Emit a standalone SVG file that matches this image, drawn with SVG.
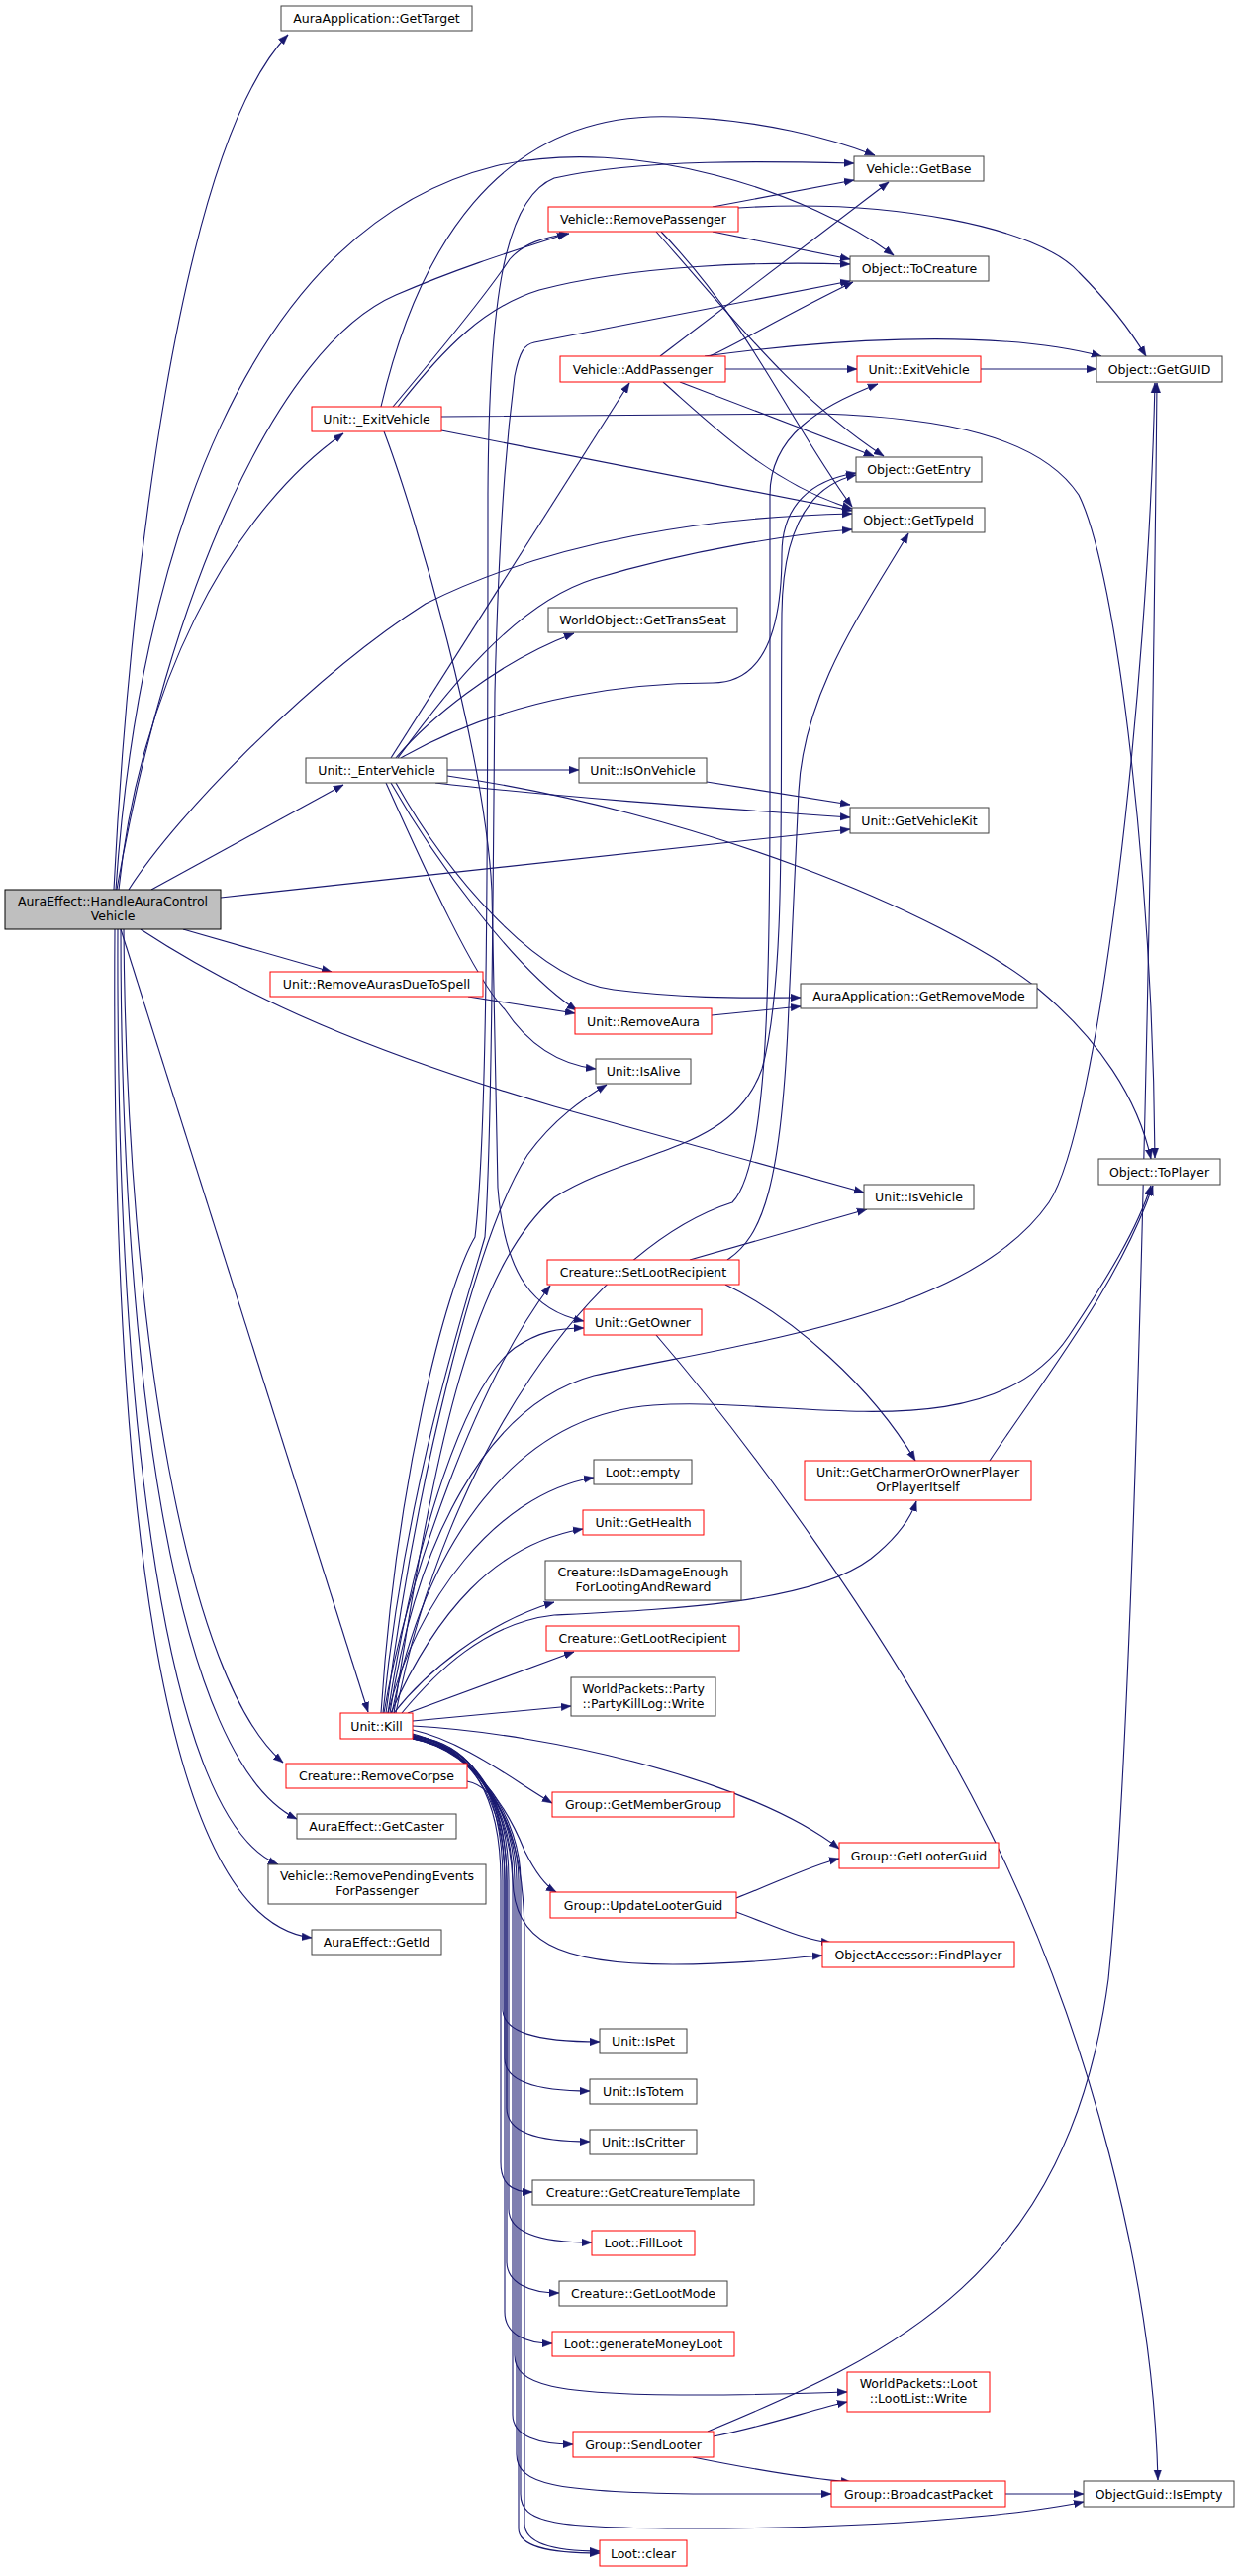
<svg xmlns="http://www.w3.org/2000/svg" width="1252" height="2603" viewBox="0 0 1252 2603">
<style>
.nd rect{fill:#ffffff;stroke:#404040;stroke-width:1}
.rd rect{fill:#ffffff;stroke:#ff0000;stroke-width:1}
.root rect{fill:#bfbfbf;stroke:#000000;stroke-width:1}
text{font-family:"DejaVu Sans",Verdana,sans-serif;font-size:12.5px;text-anchor:middle;fill:#000000}
#edges path{fill:none;stroke:#191970;stroke-width:1.1;marker-end:url(#arr)}
</style>
<defs>
<marker id="arr" markerUnits="userSpaceOnUse" markerWidth="11" markerHeight="9" refX="10" refY="4.5" orient="auto">
<path d="M0,0.8 L10,4.5 L0,8.2 z" fill="#191970" stroke="#191970" stroke-width="0.5"/>
</marker>
</defs>
<rect x="0" y="0" width="1252" height="2603" fill="#ffffff"/>
<g id="edges">
<path d="M115,899 C130,600 180,150 291,35"/>
<path d="M117,899 C140,560 250,230 500,168 C640,135 820,195 903,258"/>
<path d="M118,899 C170,600 280,350 400,298 C470,268 530,250 573,236"/>
<path d="M120,899 C140,700 230,520 347,438"/>
<path d="M130,899 C180,820 320,680 430,610 C560,545 720,522 861,519"/>
<path d="M153,899 L347,793"/>
<path d="M223,907 L859,838"/>
<path d="M185,939 L335,982"/>
<path d="M142,939 C250,1010 380,1065 560,1118 L873,1205"/>
<path d="M122,939 L372,1730"/>
<path d="M125,939 C128,1350 190,1700 286,1781"/>
<path d="M122,939 C122,1400 180,1780 300,1838"/>
<path d="M119,939 C117,1450 170,1840 281,1884"/>
<path d="M116,939 C112,1500 160,1940 315,1958"/>
<path d="M385,411 C420,260 500,110 683,118 C770,121 840,140 884,157"/>
<path d="M397,411 C440,360 490,300 515,262 C530,245 550,240 575,236"/>
<path d="M402,411 C450,350 490,310 545,293 C640,268 770,264 859,267"/>
<path d="M446,435 L861,516"/>
<path d="M446,421 L830,418 C950,422 1050,440 1090,500 C1130,580 1165,900 1167,1170"/>
<path d="M388,436 C420,520 490,760 497,900 L503,1200 C510,1290 540,1325 590,1335"/>
<path d="M720,209 L863,182"/>
<path d="M720,234 L859,262"/>
<path d="M746,210 C900,200 1050,230 1090,275 C1120,305 1140,330 1158,360"/>
<path d="M663,234 C740,320 800,400 893,461"/>
<path d="M668,234 C760,330 800,430 861,512"/>
<path d="M667,360 L898,184"/>
<path d="M717,360 C750,345 790,320 862,285"/>
<path d="M733,373 L866,373"/>
<path d="M712,360 C820,345 1000,330 1113,360"/>
<path d="M687,386 L883,461"/>
<path d="M670,386 C720,430 780,490 861,514"/>
<path d="M991,373 L1108,373"/>
<path d="M395,766 L636,387"/>
<path d="M400,766 C430,730 500,670 580,640"/>
<path d="M452,778 L585,778"/>
<path d="M405,766 C520,700 650,690 720,690 C770,690 790,640 790,560 C790,510 820,485 865,478"/>
<path d="M402,766 C450,700 520,610 600,585 C700,555 800,540 861,535"/>
<path d="M440,791 C560,805 700,815 859,826"/>
<path d="M452,784 C700,820 950,920 1050,1000 C1110,1050 1150,1110 1163,1171"/>
<path d="M395,791 C440,870 520,980 583,1021"/>
<path d="M390,791 C430,880 480,990 510,1020 C530,1050 560,1075 602,1080"/>
<path d="M400,791 C450,880 540,990 620,1000 C700,1010 760,1008 809,1008"/>
<path d="M714,790 L859,813"/>
<path d="M719,1026 L809,1017"/>
<path d="M473,1007 L581,1024"/>
<path d="M697,1273 L876,1222"/>
<path d="M735,1273 C770,1250 790,1200 797,1017 L807,800 C812,700 870,620 918,539"/>
<path d="M733,1298 C800,1330 880,1400 925,1476"/>
<path d="M1000,1476 C1050,1400 1130,1300 1165,1198"/>
<path d="M663,1349 C750,1450 900,1650 1000,1850 C1100,2050 1165,2300 1170,2506"/>
<path d="M390,1731 C420,1500 480,1250 533,1167 C560,1130 590,1110 613,1096"/>
<path d="M392,1731 C420,1550 470,1400 520,1362 C545,1345 565,1342 590,1342"/>
<path d="M388,1731 C410,1600 480,1400 556,1299"/>
<path d="M394,1731 C420,1560 490,1420 600,1390 C760,1355 980,1330 1060,1215 C1110,1140 1160,700 1167,387"/>
<path d="M396,1731 C430,1560 520,1430 660,1420 C800,1410 1000,1470 1080,1350 C1120,1290 1150,1240 1163,1198"/>
<path d="M406,1731 C440,1690 490,1640 560,1632 C680,1626 820,1620 880,1575 C905,1555 920,1535 926,1517"/>
<path d="M385,1731 C400,1500 450,1300 480,1250 C492,1150 493,900 493,500 C494,300 510,200 560,180 C650,160 780,163 863,165"/>
<path d="M387,1731 C410,1500 470,1320 490,1250 C497,1150 498,900 500,700 C505,500 515,420 520,380 C525,355 530,348 540,346 L859,284"/>
<path d="M398,1731 C440,1450 480,1280 560,1210 C640,1160 740,1165 770,1080 C795,990 788,800 790,620 C791,530 820,490 865,480"/>
<path d="M400,1731 C450,1470 600,1260 740,1215 C775,1180 778,1000 778,800 L778,500 C778,440 830,410 887,388"/>
<path d="M392,1731 C420,1620 500,1510 600,1493"/>
<path d="M395,1731 C440,1630 500,1560 589,1545"/>
<path d="M398,1731 C430,1690 490,1640 560,1619"/>
<path d="M412,1731 L580,1669"/>
<path d="M417,1739 L577,1724"/>
<path d="M417,1744 C560,1752 760,1800 848,1868"/>
<path d="M417,1748 C470,1760 520,1800 558,1822"/>
<path d="M417,1752 C470,1765 510,1820 530,1870 C540,1890 550,1905 562,1912"/>
<path d="M417,1753 C480,1765 515,1830 518,1900 C520,1960 560,1985 680,1985 C760,1985 800,1978 831,1976"/>
<path d="M417,1754 C470,1760 508,1800 508,1900 L508,2030 C508,2053 540,2063 606,2063"/>
<path d="M417,1754 C472,1761 510,1805 510,1900 L510,2080 C510,2103 540,2113 596,2113"/>
<path d="M417,1755 C474,1762 512,1810 512,1900 L512,2130 C512,2154 540,2164 596,2164"/>
<path d="M417,1755 C476,1763 506,1815 506,1900 L506,2185 C506,2205 515,2215 538,2215"/>
<path d="M417,1755 C478,1764 514,1815 514,1900 L514,2232 C514,2256 545,2266 598,2266"/>
<path d="M417,1756 C478,1765 512,1820 512,1900 L512,2285 C512,2307 535,2317 565,2317"/>
<path d="M417,1756 C476,1766 510,1820 510,1900 L510,2336 C510,2358 530,2368 558,2368"/>
<path d="M417,1756 C480,1766 520,1830 520,1900 L520,2380 C520,2410 560,2420 700,2420 C780,2420 820,2418 856,2417"/>
<path d="M417,1757 C480,1767 518,1830 518,1900 L518,2440 C518,2462 545,2470 579,2470"/>
<path d="M417,1757 C482,1768 522,1835 522,1900 L522,2480 C522,2510 560,2518 700,2520 C760,2520 800,2520 840,2520"/>
<path d="M417,1757 C484,1769 526,1840 526,1900 L526,2520 C526,2550 560,2555 700,2555 C900,2555 1040,2540 1095,2528"/>
<path d="M417,1757 C484,1770 524,1840 524,1900 L524,2555 C524,2572 550,2580 606,2580"/>
<path d="M472,1800 C500,1805 528,1850 530,1950 L530,2550 C530,2570 560,2578 606,2578"/>
<path d="M715,2457 C900,2380 1080,2300 1120,2000 C1150,1700 1165,800 1169,387"/>
<path d="M721,2462 C780,2450 820,2435 856,2427"/>
<path d="M700,2483 C760,2495 820,2505 860,2508"/>
<path d="M1016,2520 L1095,2520"/>
<path d="M744,1918 C790,1900 820,1885 848,1878"/>
<path d="M744,1932 C780,1945 810,1960 840,1963"/>
</g>
<g id="n0" class="root"><rect x="5" y="899" width="218" height="40"/><text x="114" y="915">AuraEffect::HandleAuraControl</text><text x="114" y="929.5">Vehicle</text></g>
<g id="n1" class="nd"><rect x="284" y="6" width="193" height="25"/><text x="380.5" y="23">AuraApplication::GetTarget</text></g>
<g id="n2" class="nd"><rect x="863" y="158" width="131" height="25"/><text x="928.5" y="175">Vehicle::GetBase</text></g>
<g id="n3" class="nd"><rect x="859" y="259" width="140" height="25"/><text x="929" y="276">Object::ToCreature</text></g>
<g id="n4" class="rd"><rect x="315" y="411" width="131" height="25"/><text x="380.5" y="428">Unit::_ExitVehicle</text></g>
<g id="n5" class="rd"><rect x="554" y="209" width="192" height="25"/><text x="650" y="226">Vehicle::RemovePassenger</text></g>
<g id="n6" class="nd"><rect x="1108" y="360" width="127" height="26"/><text x="1171.5" y="377.5">Object::GetGUID</text></g>
<g id="n7" class="nd"><rect x="865" y="462" width="127" height="25"/><text x="928.5" y="479">Object::GetEntry</text></g>
<g id="n8" class="nd"><rect x="861" y="513" width="134" height="25"/><text x="928" y="530">Object::GetTypeId</text></g>
<g id="n9" class="nd"><rect x="1110" y="1171" width="123" height="26"/><text x="1171.5" y="1188.5">Object::ToPlayer</text></g>
<g id="n10" class="rd"><rect x="590" y="1323" width="119" height="26"/><text x="649.5" y="1340.5">Unit::GetOwner</text></g>
<g id="n11" class="nd"><rect x="1095" y="2507" width="152" height="26"/><text x="1171" y="2524.5">ObjectGuid::IsEmpty</text></g>
<g id="n12" class="rd"><rect x="566" y="360" width="167" height="26"/><text x="649.5" y="377.5">Vehicle::AddPassenger</text></g>
<g id="n13" class="rd"><rect x="866" y="360" width="125" height="26"/><text x="928.5" y="377.5">Unit::ExitVehicle</text></g>
<g id="n14" class="nd"><rect x="309" y="766" width="143" height="25"/><text x="380.5" y="783">Unit::_EnterVehicle</text></g>
<g id="n15" class="nd"><rect x="554" y="614" width="191" height="25"/><text x="649.5" y="631">WorldObject::GetTransSeat</text></g>
<g id="n16" class="nd"><rect x="585" y="766" width="129" height="25"/><text x="649.5" y="783">Unit::IsOnVehicle</text></g>
<g id="n17" class="nd"><rect x="859" y="816" width="140" height="26"/><text x="929" y="833.5">Unit::GetVehicleKit</text></g>
<g id="n18" class="rd"><rect x="581" y="1019" width="138" height="26"/><text x="650" y="1036.5">Unit::RemoveAura</text></g>
<g id="n19" class="nd"><rect x="809" y="994" width="239" height="25"/><text x="928.5" y="1011">AuraApplication::GetRemoveMode</text></g>
<g id="n20" class="nd"><rect x="602" y="1070" width="96" height="25"/><text x="650" y="1087">Unit::IsAlive</text></g>
<g id="n21" class="rd"><rect x="273" y="982" width="215" height="25"/><text x="380.5" y="999">Unit::RemoveAurasDueToSpell</text></g>
<g id="n22" class="nd"><rect x="873" y="1197" width="111" height="25"/><text x="928.5" y="1214">Unit::IsVehicle</text></g>
<g id="n23" class="rd"><rect x="344" y="1731" width="73" height="26"/><text x="380.5" y="1748.5">Unit::Kill</text></g>
<g id="n24" class="rd"><rect x="553" y="1273" width="194" height="25"/><text x="650" y="1290">Creature::SetLootRecipient</text></g>
<g id="n25" class="rd"><rect x="813" y="1476" width="229" height="40"/><text x="927.5" y="1492">Unit::GetCharmerOrOwnerPlayer</text><text x="927.5" y="1506.5">OrPlayerItself</text></g>
<g id="n26" class="nd"><rect x="600" y="1475" width="99" height="25"/><text x="649.5" y="1492">Loot::empty</text></g>
<g id="n27" class="rd"><rect x="589" y="1526" width="122" height="25"/><text x="650" y="1543">Unit::GetHealth</text></g>
<g id="n28" class="nd"><rect x="551" y="1577" width="198" height="40"/><text x="650" y="1593">Creature::IsDamageEnough</text><text x="650" y="1607.5">ForLootingAndReward</text></g>
<g id="n29" class="rd"><rect x="552" y="1643" width="195" height="25"/><text x="649.5" y="1660">Creature::GetLootRecipient</text></g>
<g id="n30" class="nd"><rect x="577" y="1695" width="146" height="39"/><text x="650" y="1711">WorldPackets::Party</text><text x="650" y="1725.5">::PartyKillLog::Write</text></g>
<g id="n31" class="rd"><rect x="558" y="1811" width="184" height="25"/><text x="650" y="1828">Group::GetMemberGroup</text></g>
<g id="n32" class="rd"><rect x="848" y="1862" width="161" height="26"/><text x="928.5" y="1879.5">Group::GetLooterGuid</text></g>
<g id="n33" class="rd"><rect x="556" y="1912" width="188" height="26"/><text x="650" y="1929.5">Group::UpdateLooterGuid</text></g>
<g id="n34" class="rd"><rect x="831" y="1962" width="194" height="26"/><text x="928" y="1979.5">ObjectAccessor::FindPlayer</text></g>
<g id="n35" class="nd"><rect x="606" y="2050" width="88" height="25"/><text x="650" y="2067">Unit::IsPet</text></g>
<g id="n36" class="nd"><rect x="596" y="2101" width="108" height="25"/><text x="650" y="2118">Unit::IsTotem</text></g>
<g id="n37" class="nd"><rect x="596" y="2152" width="108" height="25"/><text x="650" y="2169">Unit::IsCritter</text></g>
<g id="n38" class="nd"><rect x="538" y="2203" width="224" height="25"/><text x="650" y="2220">Creature::GetCreatureTemplate</text></g>
<g id="n39" class="rd"><rect x="598" y="2254" width="104" height="25"/><text x="650" y="2271">Loot::FillLoot</text></g>
<g id="n40" class="nd"><rect x="565" y="2305" width="170" height="25"/><text x="650" y="2322">Creature::GetLootMode</text></g>
<g id="n41" class="rd"><rect x="558" y="2356" width="184" height="25"/><text x="650" y="2373">Loot::generateMoneyLoot</text></g>
<g id="n42" class="rd"><rect x="856" y="2397" width="144" height="40"/><text x="928" y="2413">WorldPackets::Loot</text><text x="928" y="2427.5">::LootList::Write</text></g>
<g id="n43" class="rd"><rect x="579" y="2457" width="142" height="26"/><text x="650" y="2474.5">Group::SendLooter</text></g>
<g id="n44" class="rd"><rect x="840" y="2507" width="176" height="26"/><text x="928" y="2524.5">Group::BroadcastPacket</text></g>
<g id="n45" class="rd"><rect x="606" y="2567" width="88" height="26"/><text x="650" y="2584.5">Loot::clear</text></g>
<g id="n46" class="rd"><rect x="289" y="1782" width="183" height="25"/><text x="380.5" y="1799">Creature::RemoveCorpse</text></g>
<g id="n47" class="nd"><rect x="300" y="1833" width="161" height="25"/><text x="380.5" y="1850">AuraEffect::GetCaster</text></g>
<g id="n48" class="nd"><rect x="271" y="1884" width="220" height="40"/><text x="381" y="1900">Vehicle::RemovePendingEvents</text><text x="381" y="1914.5">ForPassenger</text></g>
<g id="n49" class="nd"><rect x="315" y="1950" width="131" height="25"/><text x="380.5" y="1967">AuraEffect::GetId</text></g>
</svg>
